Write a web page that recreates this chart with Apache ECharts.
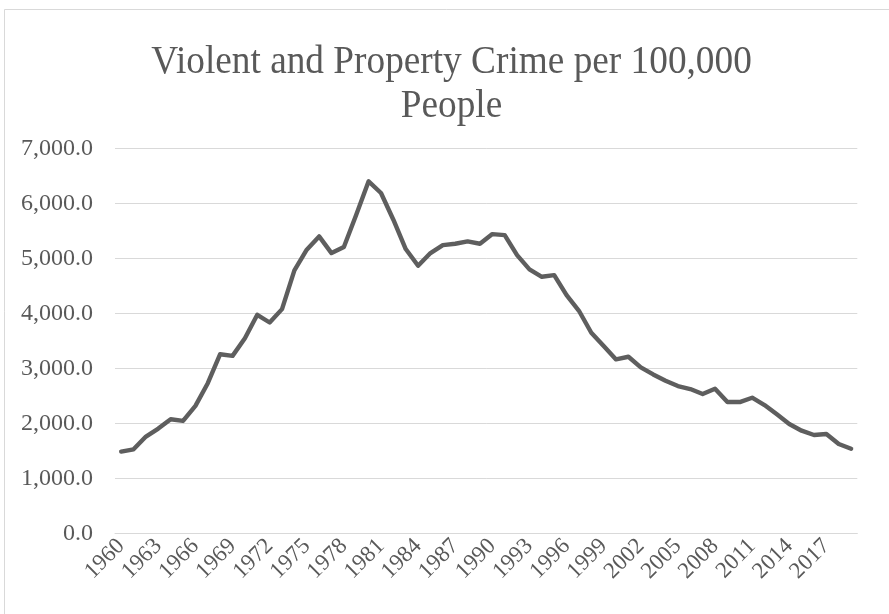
<!DOCTYPE html>
<html>
<head>
<meta charset="utf-8">
<script src="https://cdn.jsdelivr.net/npm/echarts@6/dist/echarts.min.js"></script>
<style>
html,body{margin:0;padding:0;background:#fff;}
#c{width:889px;height:614px;}
</style>
</head>
<body>
<div id="c"></div>
<script>
const years = [];
for (let y = 1960; y <= 2019; y++) years.push(String(y));

const crimeRate = [
  1491, 1533, 1764, 1909, 2079, 2048, 2321, 2733, 3260, 3230,
  3551, 3976, 3836, 4079, 4782, 5158, 5400, 5097, 5206, 5794,
  6400, 6188, 5703, 5170, 4867, 5097, 5242, 5266, 5309, 5266,
  5442, 5424, 5060, 4800, 4666, 4697, 4333, 4049, 3650, 3408,
  3166, 3214, 3021, 2893, 2779, 2682, 2627, 2537, 2633, 2391,
  2391, 2470, 2337, 2168, 1992, 1871, 1792, 1811, 1629, 1544
];

const yTicks = [0, 1000, 2000, 3000, 4000, 5000, 6000, 7000];
const titleText = 'Violent and Property Crime per 100,000\nPeople';

const FONT = "'Times New Roman', 'Liberation Serif', serif";
const chart = echarts.init(document.getElementById('c'), null, {renderer: 'canvas'});
chart.setOption({
  animation: false,
  backgroundColor: '#ffffff',
  graphic: [
    {type: 'line', shape: {x1: 4.5, y1: 9.5, x2: 889, y2: 9.5}, style: {stroke: '#d9d9d9', lineWidth: 1}},
    {type: 'line', shape: {x1: 4.5, y1: 9.5, x2: 4.5, y2: 614}, style: {stroke: '#d9d9d9', lineWidth: 1}},
    {type: 'text', x: 451.5, y: 41, scaleY: 1.06, style: {text: titleText, fontFamily: FONT, fontSize: 37.3, lineHeight: 41, fill: '#595959', align: 'center', verticalAlign: 'top'}}
  ],
  grid: {left: 115, right: 31.7, top: 148.3, bottom: 80.3, containLabel: false},
  xAxis: {
    type: 'category',
    data: years,
    boundaryGap: true,
    axisLine: {show: true, lineStyle: {color: '#d9d9d9', width: 1}},
    axisTick: {show: false},
    axisLabel: {interval: 2, rotate: 45, margin: 9, fontFamily: FONT, fontSize: 23, color: '#595959'}
  },
  yAxis: {
    type: 'value',
    min: yTicks[0],
    max: yTicks[yTicks.length - 1],
    interval: 1000,
    axisLine: {show: false},
    axisTick: {show: false},
    splitLine: {lineStyle: {color: '#d9d9d9', width: 1}},
    axisLabel: {
      margin: 22, fontFamily: FONT, fontSize: 24, color: '#595959',
      formatter: v => v.toLocaleString('en-US', {minimumFractionDigits: 1, maximumFractionDigits: 1})
    }
  },
  series: [{
    type: 'line',
    data: crimeRate,
    showSymbol: false,
    symbol: 'none',
    lineStyle: {color: '#5e5e5e', width: 4.4, cap: 'round', join: 'round'}
  }]
});
</script>
</body>
</html>
